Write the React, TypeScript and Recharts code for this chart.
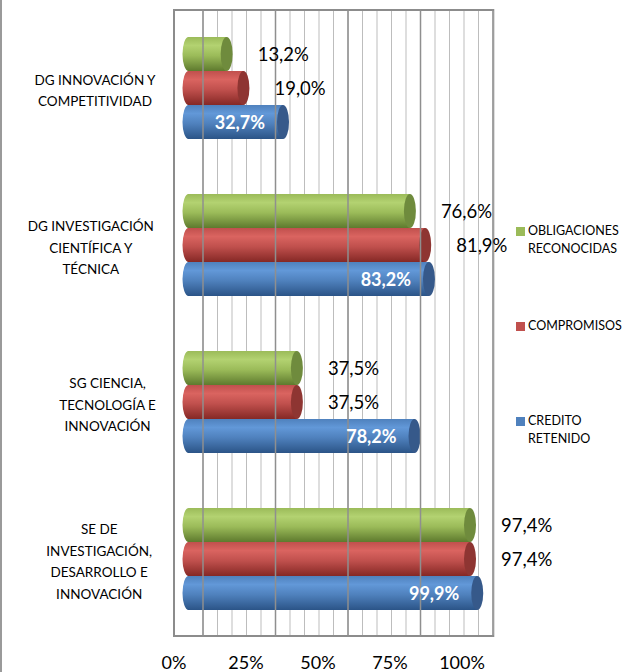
import React from 'react';
import {
  BarChart,
  Bar,
  XAxis,
  YAxis,
  CartesianGrid,
  ReferenceLine,
  Legend,
  LabelList
} from 'recharts';

// categories, top to bottom
const categories = [
  'DG INNOVACIÓN Y COMPETITIVIDAD',
  'DG INVESTIGACIÓN CIENTÍFICA Y TÉCNICA',
  'SG CIENCIA, TECNOLOGÍA E INNOVACIÓN',
  'SE DE INVESTIGACIÓN, DESARROLLO E INNOVACIÓN'
];
const categoryLines = [
  ['DG INNOVACIÓN Y', 'COMPETITIVIDAD'],
  ['DG INVESTIGACIÓN', 'CIENTÍFICA Y', 'TÉCNICA'],
  ['SG CIENCIA,', 'TECNOLOGÍA E', 'INNOVACIÓN'],
  ['SE DE', 'INVESTIGACIÓN,', 'DESARROLLO E', 'INNOVACIÓN']
];

// series values (%)
const obligaciones = [13.2, 76.6, 37.5, 97.4];
const compromisos = [19.0, 81.9, 37.5, 97.4];
const credito = [32.7, 83.2, 78.2, 99.9];

const axisTicks = [0, 25, 50, 75, 100];
const minorTicks = [0, 5, 10, 15, 20, 25, 30, 35, 40, 45, 50, 55, 60, 65, 70, 75, 80, 85, 90, 95, 100];

// legend, in drawing order
const seriesKeys = ['obligaciones', 'compromisos', 'credito'];
const seriesNames = ['OBLIGACIONES RECONOCIDAS', 'COMPROMISOS', 'CREDITO RETENIDO'];
const legendLines = [['OBLIGACIONES', 'RECONOCIDAS'], ['COMPROMISOS'], ['CREDITO', 'RETENIDO']];

const FONT = 'Lato, "Open Sans", sans-serif';

const data = categories.map((name, i) => ({
  name,
  obligaciones: obligaciones[i],
  compromisos: compromisos[i],
  credito: credito[i]
}));

// colours for the 3D cylinders
const PALETTE: Record<string, { base: string; light: string; dark: string; cap: string }> = {
  obligaciones: { base: '#9BBB59', light: '#B3D271', dark: '#5E7A2E', cap: '#6F8B3D' },
  compromisos: { base: '#C0504D', light: '#DA6460', dark: '#852825', cap: '#8E3532' },
  credito: { base: '#4F81BD', light: '#6298D8', dark: '#2B5487', cap: '#36598A' }
};

const makeCylinder = (key: string) => (props: any) => {
  const { x, y, width, height } = props;
  const c = PALETTE[key];
  const rx = 6;
  const ry = height / 2;
  const id = `grad-${key}`;
  return (
    <g>
      <defs>
        <linearGradient id={id} x1="0" y1="0" x2="0" y2="1">
          <stop offset="0%" stopColor={c.base} />
          <stop offset="25%" stopColor={c.light} />
          <stop offset="55%" stopColor={c.base} />
          <stop offset="100%" stopColor={c.dark} />
        </linearGradient>
      </defs>
      <path
        d={`M${x},${y} L${x + width},${y} L${x + width},${y + height} L${x},${y + height} A${rx},${ry} 0 0 1 ${x},${y} Z`}
        fill={`url(#${id})`}
      />
      <ellipse cx={x + width} cy={y + ry} rx={rx} ry={ry} fill={c.cap} />
    </g>
  );
};

const fmt = (v: number) => `${v.toFixed(1).replace('.', ',')}%`;

const OutsideLabel = (props: any) => {
  const { x, y, width, height, value } = props;
  return (
    <text
      x={x + width + 31}
      y={y + height / 2}
      dominantBaseline="central"
      fontFamily={FONT}
      fontSize={18.5}
      fill="#000"
    >
      {fmt(value)}
    </text>
  );
};

const InsideLabel = (props: any) => {
  const { x, y, width, height, value } = props;
  return (
    <text
      x={x + width - 18}
      y={y + height / 2}
      dominantBaseline="central"
      textAnchor="end"
      fontFamily={FONT}
      fontSize={18}
      fontWeight="bold"
      fill="#fff"
    >
      {fmt(value)}
    </text>
  );
};

const CategoryTick = (props: any) => {
  const { x, y, payload } = props;
  const lines = categoryLines[categories.indexOf(payload.value)] || [payload.value];
  const widest = Math.max(...lines.map((l: string) => l.length));
  const cx = x - 8 - (widest * 8.4) / 2;
  const lh = 21.7;
  const top = y + 3 - ((lines.length - 1) * lh) / 2;
  return (
    <g>
      {lines.map((l: string, i: number) => (
        <text
          key={i}
          x={cx}
          y={top + i * lh}
          textAnchor="middle"
          dominantBaseline="central"
          fontFamily={FONT}
          fontSize={13.5}
          fill="#000"
        >
          {l}
        </text>
      ))}
    </g>
  );
};

const PercentTick = (props: any) => {
  const { x, y, payload } = props;
  return (
    <text x={x} y={y + 23} textAnchor="middle" dominantBaseline="central" fontFamily={FONT} fontSize={18} fill="#000">
      {`${payload.value}%`}
    </text>
  );
};

const LegendContent = () => (
  <div style={{ fontFamily: FONT, fontSize: 12.5, color: '#000' }}>
    {seriesKeys.map((key, i) => (
      <div key={key} style={{ height: 95, display: 'flex', alignItems: 'flex-start' }}>
        <div style={{ width: 9, height: 9, background: PALETTE[key].base, marginTop: 5, marginRight: 3, flexShrink: 0 }} />
        <div style={{ lineHeight: '18px' }}>
          {legendLines[i].map((l, j) => (
            <div key={j}>{l}</div>
          ))}
        </div>
      </div>
    ))}
  </div>
);

const FRAME = '#8c8c8c';

// top and bottom edges of the plot wall
const frameRows = ({ offset }: any) => [offset.top + 1, offset.top + offset.height - 1];

export default function App() {
  return (
    <div style={{ position: 'absolute', left: 0, top: 0, width: 640, height: 672, background: '#fff' }}>
      <div style={{ position: 'absolute', left: 0, top: 0, width: 2, height: 672, background: '#9a9a9a' }} />
      <BarChart
        width={640}
        height={672}
        data={data}
        layout="vertical"
        margin={{ top: 9, right: 146, left: 0, bottom: 0 }}
        barSize={34}
        barGap={0}
      >
        <XAxis
          xAxisId="lbl"
          type="number"
          orientation="bottom"
          domain={[0, 111.1]}
          ticks={axisTicks}
          interval={0}
          allowDataOverflow
          height={35}
          tickLine={false}
          tickSize={0}
          axisLine={false}
          tick={<PercentTick />}
        />
        <XAxis xAxisId="bar" type="number" domain={[-5.02, 105.7]} height={0} allowDataOverflow hide />
        <XAxis
          xAxisId="grid"
          type="number"
          domain={[-10, 100.34]}
          ticks={minorTicks}
          interval={0}
          height={0}
          allowDataOverflow
          hide
        />
        <YAxis
          type="category"
          dataKey="name"
          width={174}
          tickLine={false}
          axisLine={{ stroke: FRAME, strokeWidth: 2 }}
          tick={<CategoryTick />}
          interval={0}
        />
        <YAxis
          yAxisId="r"
          type="category"
          dataKey="name"
          orientation="right"
          width={0}
          tick={false}
          tickLine={false}
          axisLine={{ stroke: FRAME, strokeWidth: 2 }}
        />
        <CartesianGrid xAxisId="grid" horizontal={false} stroke="#bdbdbd" strokeWidth={1} />
        <CartesianGrid
          xAxisId="grid"
          vertical={false}
          horizontalCoordinatesGenerator={frameRows}
          stroke={FRAME}
          strokeWidth={2}
        />
        {axisTicks.map((t) => (
          <ReferenceLine key={t} xAxisId="grid" x={t} stroke="#8f8f8f" strokeWidth={1.5} />
        ))}
        <Legend
          layout="vertical"
          align="center"
          verticalAlign="middle"
          content={<LegendContent />}
          wrapperStyle={{ position: 'absolute', left: 516, top: 222, width: 124 }}
        />
        {seriesKeys.map((key, i) => (
          <Bar
            key={key}
            xAxisId="bar"
            dataKey={key}
            name={seriesNames[i]}
            fill={PALETTE[key].base}
            shape={makeCylinder(key)}
            isAnimationActive={false}
          >
            <LabelList dataKey={key} content={key === 'credito' ? <InsideLabel /> : <OutsideLabel />} />
          </Bar>
        ))}
      </BarChart>
    </div>
  );
}
